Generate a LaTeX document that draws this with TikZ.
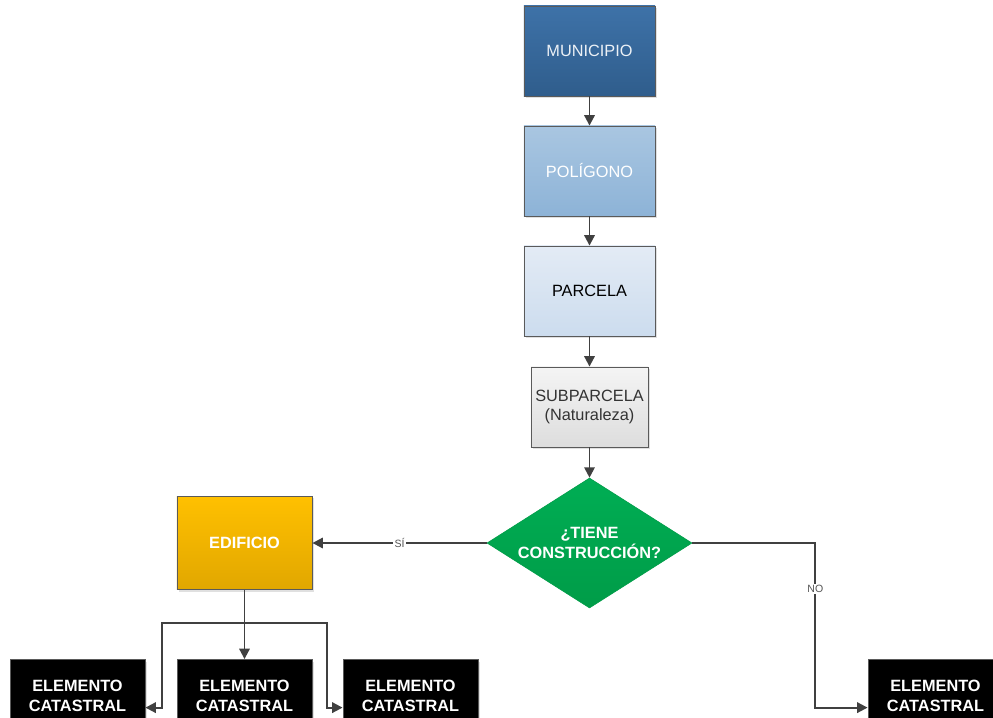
\documentclass[tikz,border=0pt]{standalone}
\usepackage{fontspec}
\setmainfont{Liberation Sans}
\usetikzlibrary{arrows.meta,shapes.geometric,shadows}
\definecolor{munTop}{HTML}{3E72A8}
\definecolor{munBot}{HTML}{2F5D8C}
\definecolor{polTop}{HTML}{A9C6E1}
\definecolor{polBot}{HTML}{8DB3D7}
\definecolor{parTop}{HTML}{E3EBF5}
\definecolor{parBot}{HTML}{CCDCEE}
\definecolor{subTop}{HTML}{F4F4F4}
\definecolor{subBot}{HTML}{DDDDDD}
\definecolor{diaTop}{HTML}{00AE54}
\definecolor{diaBot}{HTML}{009C48}
\definecolor{edifTop}{HTML}{FFC000}
\definecolor{edifBot}{HTML}{E1A700}
\definecolor{catLine}{HTML}{404040}
\definecolor{catBorder}{HTML}{5A5A5A}
\definecolor{catLabel}{HTML}{555555}
\NewDocumentCommand{\catfont}{}{\fontsize{11.6}{14}\selectfont}
\NewDocumentCommand{\elem}{}{ELEMENTO\\CATASTRAL}
\tikzset{/CAT/box/.style={
	shape=rectangle, draw=catBorder, line width=0.6pt, align=center, font=\catfont,
	minimum width=3.275cm, minimum height=2.25cm, inner sep=0,
	drop shadow={shadow xshift=0.05cm, shadow yshift=-0.05cm, fill=black!20, opacity=0.6}
}}
\tikzset{/CAT/leaf/.style={
	/CAT/box, fill=black, text=white, font=\catfont\bfseries,
	minimum width=3.375cm, minimum height=1.825cm
}}
\tikzset{/CAT/link/.style={
	draw=catLine, line width=1.4pt, -{Triangle[length=0.26cm, width=0.26cm]}
}}
\tikzset{/CAT/tag/.style={
	fill=white, inner sep=1pt, text=catLabel, font=\fontsize{7.5}{9}\selectfont
}}

\begin{document}
\begin{tikzpicture}[x=0.025cm, y=-0.025cm]
				\useasboundingbox (0,0) rectangle (993,717);
				\clip (0,0) rectangle (993,717);
				\path (589.5,51) node[/CAT/box, top color=munTop, bottom color=munBot, text=white!90!munTop] (mun) {MUNICIPIO};
				\path (mun.center) ++ (0,120) node[/CAT/box, top color=polTop, bottom color=polBot, text=white] (pol) {POLÍGONO};
				\path (pol.center) ++ (0,120) node[/CAT/box, top color=parTop, bottom color=parBot, text=black] (par) {PARCELA};
				\path (par.center) ++ (0,116) node[/CAT/box, top color=subTop, bottom color=subBot, text=black!80,
					minimum width=2.925cm, minimum height=2cm] (sub) {SUBPARCELA\\(Naturaleza)};
				\path (sub.center) ++ (0,136) node[shape=diamond, aspect=1.6, top color=diaTop, bottom color=diaBot, draw=diaBot,
					minimum width=5.125cm, minimum height=3.25cm, inner sep=0, align=center,
					text=white, font=\catfont\bfseries] (dia) {¿TIENE\\CONSTRUCCIÓN?};
				\path (dia.center) ++ (-345,0) node[/CAT/box, top color=edifTop, bottom color=edifBot, text=white,
					font=\catfont\bfseries, minimum width=3.375cm, minimum height=2.325cm] (edif) {EDIFICIO};
				\path (edif.center) ++ (0,153) node[/CAT/leaf] (el2) {\elem};
				\path (el2.center) ++ (-167,0) node[/CAT/leaf] (el1) {\elem};
				\path (el2.center) ++ (166,0) node[/CAT/leaf] (el3) {\elem};
				\path (el3.center) ++ (525,0) node[/CAT/leaf] (el4) {\elem};
				% main chain
				\draw[/CAT/link] (mun) -- (pol);
				\draw[/CAT/link] (pol) -- (par);
				\draw[/CAT/link] (par) -- (sub);
				\draw[/CAT/link] (sub) -- (dia);
				% decision
				\draw[/CAT/link] (dia.west) -- node[/CAT/tag] {SÍ} (edif.east);
				\draw[/CAT/link] (dia.east) -- ++(123,0) |- node[/CAT/tag, pos=0.14] {NO} ([yshift=-0.29cm]el4.west);
				% building elements
				\path (edif.south) ++ (0,33) coordinate (fork);
				\draw[/CAT/link] (edif.south) -- (el2.north);
				\draw[/CAT/link] (fork) -- ++(-82.5,0) |- ([yshift=-0.29cm]el1.east);
				\draw[/CAT/link] (fork) -- ++(82.5,0) |- ([yshift=-0.29cm]el3.west);
			\end{tikzpicture}
\end{document}
